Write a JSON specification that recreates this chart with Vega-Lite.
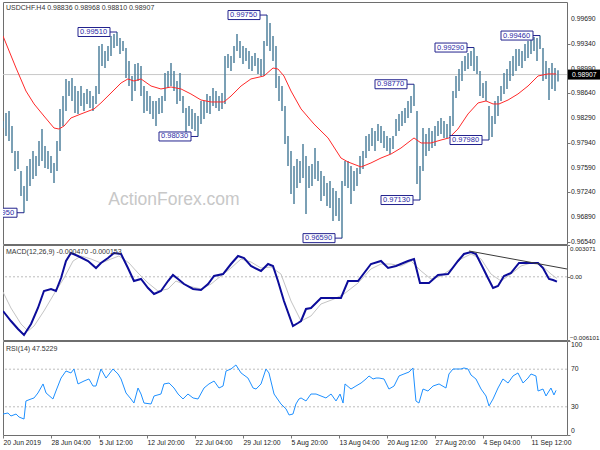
{
"$schema": "https://vega.github.io/schema/vega-lite/v6.json",
"padding": {"left": 2, "top": 1, "right": 0, "bottom": 0},
"background": "white",
"spacing": 1,
"bounds": "flush",
"config": {
 "font": "Liberation Sans",
 "view": {"stroke": "#6e6e6e", "strokeWidth": 1},
 "axis": {"labelFont": "Liberation Sans", "labelFontSize": 6.8, "labelColor": "#222222", "tickColor": "#777777", "tickSize": 3, "domain": false, "grid": false, "labelPadding": 1, "labelOverlap": false}
},
"datasets": {
 "bars": [
{"i":0,"h":0.98249,"l":0.98150},{"i":2,"h":0.98363,"l":0.98037},{"i":4,"h":0.98391,"l":0.97966},{"i":6,"h":0.98178,"l":0.97796},{"i":8,"h":0.97824,"l":0.97541},{"i":10,"h":0.97824,"l":0.97570},{"i":12,"h":0.97541,"l":0.97187},{"i":14,"h":0.97328,"l":0.96950},{"i":16,"h":0.97612,"l":0.97116},{"i":18,"h":0.97711,"l":0.97328},
{"i":20,"h":0.97824,"l":0.97428},{"i":22,"h":0.97753,"l":0.97470},{"i":24,"h":0.97966,"l":0.97612},{"i":26,"h":0.98136,"l":0.97683},{"i":28,"h":0.97895,"l":0.97584},{"i":30,"h":0.97824,"l":0.97570},{"i":32,"h":0.97753,"l":0.97513},{"i":34,"h":0.97655,"l":0.97371},{"i":36,"h":0.97966,"l":0.97541},{"i":38,"h":0.98420,"l":0.97824},
{"i":40,"h":0.98603,"l":0.98178},{"i":42,"h":0.98845,"l":0.98391},{"i":44,"h":0.98816,"l":0.98603},{"i":46,"h":0.98859,"l":0.98533},{"i":48,"h":0.98745,"l":0.98363},{"i":50,"h":0.98674,"l":0.98349},{"i":52,"h":0.98745,"l":0.98462},{"i":54,"h":0.98646,"l":0.98391},{"i":56,"h":0.98703,"l":0.98491},{"i":58,"h":0.98674,"l":0.98434},
{"i":60,"h":0.98603,"l":0.98391},{"i":62,"h":0.98745,"l":0.98491},{"i":64,"h":0.99312,"l":0.98632},{"i":66,"h":0.99340,"l":0.99028},{"i":68,"h":0.99241,"l":0.99000},{"i":70,"h":0.99312,"l":0.99099},{"i":72,"h":0.99453,"l":0.99170},{"i":74,"h":0.99482,"l":0.99283},{"i":76,"h":0.99510,"l":0.99312},{"i":78,"h":0.99425,"l":0.99199},
{"i":80,"h":0.99382,"l":0.99241},{"i":82,"h":0.99283,"l":0.98859},{"i":84,"h":0.99099,"l":0.98745},{"i":86,"h":0.98887,"l":0.98533},{"i":88,"h":0.99057,"l":0.98674},{"i":90,"h":0.99071,"l":0.98816},{"i":92,"h":0.99028,"l":0.98603},{"i":94,"h":0.98745,"l":0.98363},{"i":96,"h":0.98674,"l":0.98391},{"i":98,"h":0.98603,"l":0.98349},
{"i":100,"h":0.98533,"l":0.98278},{"i":102,"h":0.98533,"l":0.98178},{"i":104,"h":0.98575,"l":0.98349},{"i":106,"h":0.98603,"l":0.98363},{"i":108,"h":0.98930,"l":0.98533},{"i":110,"h":0.98958,"l":0.98717},{"i":112,"h":0.99071,"l":0.98745},{"i":114,"h":0.98958,"l":0.98674},{"i":116,"h":0.98816,"l":0.98491},{"i":118,"h":0.98930,"l":0.98533},
{"i":120,"h":0.98603,"l":0.98363},{"i":122,"h":0.98434,"l":0.98066},{"i":124,"h":0.98462,"l":0.98178},{"i":126,"h":0.98420,"l":0.98136},{"i":128,"h":0.98363,"l":0.98108},{"i":130,"h":0.98320,"l":0.98030},{"i":132,"h":0.98533,"l":0.98207},{"i":134,"h":0.98533,"l":0.98278},{"i":136,"h":0.98632,"l":0.98363},{"i":138,"h":0.98603,"l":0.98349},
{"i":140,"h":0.98717,"l":0.98462},{"i":142,"h":0.98674,"l":0.98434},{"i":144,"h":0.98603,"l":0.98391},{"i":146,"h":0.98646,"l":0.98420},{"i":148,"h":0.99170,"l":0.98491},{"i":150,"h":0.99199,"l":0.99000},{"i":152,"h":0.99170,"l":0.98958},{"i":154,"h":0.99312,"l":0.99071},{"i":156,"h":0.99482,"l":0.99241},{"i":158,"h":0.99382,"l":0.99142},
{"i":160,"h":0.99312,"l":0.99057},{"i":162,"h":0.99283,"l":0.99099},{"i":164,"h":0.99241,"l":0.98986},{"i":166,"h":0.99170,"l":0.98958},{"i":168,"h":0.99213,"l":0.99028},{"i":170,"h":0.99142,"l":0.98916},{"i":172,"h":0.99128,"l":0.98887},{"i":174,"h":0.99382,"l":0.98887},{"i":176,"h":0.99750,"l":0.99312},{"i":178,"h":0.99638,"l":0.99241},
{"i":180,"h":0.99453,"l":0.99099},{"i":182,"h":0.99312,"l":0.98717},{"i":184,"h":0.98887,"l":0.98533},{"i":186,"h":0.98745,"l":0.98391},{"i":188,"h":0.98462,"l":0.97924},{"i":190,"h":0.98037,"l":0.97612},{"i":192,"h":0.97824,"l":0.97216},{"i":194,"h":0.97612,"l":0.97074},{"i":196,"h":0.97711,"l":0.97300},{"i":198,"h":0.97683,"l":0.97371},
{"i":200,"h":0.97924,"l":0.97442},{"i":202,"h":0.97753,"l":0.96933},{"i":204,"h":0.97612,"l":0.97300},{"i":206,"h":0.97641,"l":0.97328},{"i":208,"h":0.97866,"l":0.97428},{"i":210,"h":0.97683,"l":0.97399},{"i":212,"h":0.97541,"l":0.97116},{"i":214,"h":0.97470,"l":0.97187},{"i":216,"h":0.97371,"l":0.97045},{"i":218,"h":0.97399,"l":0.97017},
{"i":220,"h":0.97300,"l":0.96833},{"i":222,"h":0.97258,"l":0.96904},{"i":224,"h":0.97159,"l":0.96833},{"i":226,"h":0.97399,"l":0.96590},{"i":228,"h":0.97683,"l":0.97328},{"i":230,"h":0.97683,"l":0.97300},{"i":232,"h":0.97612,"l":0.97074},{"i":234,"h":0.97541,"l":0.97258},{"i":236,"h":0.97583,"l":0.97328},{"i":238,"h":0.97753,"l":0.97499},
{"i":240,"h":0.97824,"l":0.97570},{"i":242,"h":0.98037,"l":0.97725},{"i":244,"h":0.98066,"l":0.97824},{"i":246,"h":0.98150,"l":0.97895},{"i":248,"h":0.98108,"l":0.97824},{"i":250,"h":0.98207,"l":0.97966},{"i":252,"h":0.98178,"l":0.97938},{"i":254,"h":0.98108,"l":0.97866},{"i":256,"h":0.98037,"l":0.97824},{"i":258,"h":0.98009,"l":0.97782},
{"i":260,"h":0.98037,"l":0.97852},{"i":262,"h":0.98278,"l":0.98037},{"i":264,"h":0.98349,"l":0.98108},{"i":266,"h":0.98391,"l":0.98178},{"i":268,"h":0.98434,"l":0.98221},{"i":270,"h":0.98533,"l":0.98292},{"i":272,"h":0.98603,"l":0.98363},{"i":274,"h":0.98770,"l":0.98462},{"i":276,"h":0.98391,"l":0.97357},{"i":278,"h":0.97612,"l":0.97130},
{"i":280,"h":0.98150,"l":0.97541},{"i":282,"h":0.98066,"l":0.97753},{"i":284,"h":0.98150,"l":0.97824},{"i":286,"h":0.98108,"l":0.97866},{"i":288,"h":0.98178,"l":0.97895},{"i":290,"h":0.98249,"l":0.98037},{"i":292,"h":0.98292,"l":0.98066},{"i":294,"h":0.98249,"l":0.98009},{"i":296,"h":0.98207,"l":0.98009},{"i":298,"h":0.98320,"l":0.98037},
{"i":300,"h":0.98674,"l":0.98178},{"i":302,"h":0.98887,"l":0.98575},{"i":304,"h":0.98986,"l":0.98674},{"i":306,"h":0.99099,"l":0.98816},{"i":308,"h":0.99170,"l":0.98958},{"i":310,"h":0.99213,"l":0.98986},{"i":312,"h":0.99241,"l":0.99028},{"i":314,"h":0.99290,"l":0.98958},{"i":316,"h":0.99170,"l":0.98916},{"i":318,"h":0.98958,"l":0.98603},
{"i":320,"h":0.98788,"l":0.98575},{"i":322,"h":0.98816,"l":0.98533},{"i":324,"h":0.98462,"l":0.97980},{"i":326,"h":0.98320,"l":0.98023},{"i":328,"h":0.98533,"l":0.98207},{"i":330,"h":0.98603,"l":0.98320},{"i":332,"h":0.98745,"l":0.98533},{"i":334,"h":0.98930,"l":0.98632},{"i":336,"h":0.98986,"l":0.98703},{"i":338,"h":0.99099,"l":0.98816},
{"i":340,"h":0.99170,"l":0.98887},{"i":342,"h":0.99269,"l":0.98958},{"i":344,"h":0.99269,"l":0.99028},{"i":346,"h":0.99241,"l":0.99000},{"i":348,"h":0.99340,"l":0.99099},{"i":350,"h":0.99382,"l":0.99142},{"i":352,"h":0.99425,"l":0.99199},{"i":354,"h":0.99439,"l":0.99241},{"i":356,"h":0.99425,"l":0.99099},{"i":358,"h":0.99460,"l":0.99269},
{"i":360,"h":0.99283,"l":0.98816},{"i":362,"h":0.99099,"l":0.98845},{"i":364,"h":0.99000,"l":0.98547},{"i":366,"h":0.99071,"l":0.98703},{"i":368,"h":0.99000,"l":0.98674},{"i":370,"h":0.98968,"l":0.98810}
 ],
 "ma": [
{"i":0,"p":0.99453},{"i":8.7,"p":0.99000},{"i":15.3,"p":0.98674},{"i":20.7,"p":0.98491},{"i":27.3,"p":0.98320},{"i":34,"p":0.98150},{"i":37.3,"p":0.98136},{"i":40.7,"p":0.98178},{"i":45.3,"p":0.98292},{"i":52,"p":0.98349},{"i":60.7,"p":0.98420},{"i":65.3,"p":0.98505},{"i":72,"p":0.98646},{"i":78.7,"p":0.98788},{"i":83.3,"p":0.98845},{"i":87.3,"p":0.98816},{"i":92,"p":0.98845},{"i":98.7,"p":0.98745},{"i":105.3,"p":0.98703},{"i":112,"p":0.98731},{"i":118.7,"p":0.98703},{"i":125.3,"p":0.98632},{"i":132,"p":0.98547},{"i":138.7,"p":0.98519},{"i":147.3,"p":0.98519},{"i":152,"p":0.98603},{"i":158.7,"p":0.98745},{"i":165.3,"p":0.98845},{"i":174,"p":0.98887},{"i":180,"p":0.99000},{"i":183.3,"p":0.98986},{"i":187.3,"p":0.98887},{"i":192,"p":0.98674},{"i":198.7,"p":0.98420},{"i":207.3,"p":0.98207},{"i":216.7,"p":0.98009},{"i":225.3,"p":0.97725},{"i":230,"p":0.97669},{"i":238.7,"p":0.97598},{"i":245.3,"p":0.97655},{"i":252,"p":0.97725},{"i":258.7,"p":0.97782},{"i":265.3,"p":0.97866},{"i":274,"p":0.98009},{"i":278.7,"p":0.97938},{"i":285.3,"p":0.97938},{"i":292,"p":0.97980},{"i":297.3,"p":0.98009},{"i":303.3,"p":0.98136},{"i":310,"p":0.98349},{"i":316.7,"p":0.98505},{"i":322,"p":0.98533},{"i":326.7,"p":0.98491},{"i":330.7,"p":0.98491},{"i":336.7,"p":0.98547},{"i":343.3,"p":0.98632},{"i":350,"p":0.98745},{"i":356.7,"p":0.98887},{"i":363.3,"p":0.98916},{"i":368.7,"p":0.98916}
 ],
 "ann": [
{"i":14,"p":0.96950,"t":"0.96950"},{"i":76,"p":0.99510,"t":"0.99510"},{"i":130,"p":0.98030,"t":"0.98030"},{"i":176,"p":0.99750,"t":"0.99750"},{"i":226,"p":0.96590,"t":"0.96590"},{"i":274,"p":0.98770,"t":"0.98770"},{"i":278,"p":0.97130,"t":"0.97130"},{"i":314,"p":0.99290,"t":"0.99290"},{"i":324,"p":0.97980,"t":"0.97980"},{"i":358,"p":0.99460,"t":"0.99460"}
 ],
 "pticks": [
{"i":376,"p":0.9969,"t":"0.99690"},{"i":376,"p":0.9934,"t":"0.99340"},{"i":376,"p":0.9899,"t":"0.98990"},{"i":376,"p":0.9864,"t":"0.98640"},{"i":376,"p":0.9829,"t":"0.98290"},{"i":376,"p":0.9794,"t":"0.97940"},{"i":376,"p":0.9759,"t":"0.97590"},{"i":376,"p":0.9724,"t":"0.97240"},{"i":376,"p":0.9689,"t":"0.96890"},{"i":376,"p":0.9654,"t":"0.96540"}
 ],
 "macd": [
{"i":0,"v":-0.003301},{"i":5.3,"v":-0.004267},{"i":10,"v":-0.005039},{"i":14,"v":-0.005618},{"i":18.7,"v":-0.004556},{"i":23.3,"v":-0.003012},{"i":27.3,"v":-0.001370},{"i":32,"v":-0.001177},{"i":35.3,"v":-0.001370},{"i":38.7,"v":-0.000116},{"i":42,"v":0.001526},{"i":45.3,"v":0.002299},{"i":50,"v":0.002009},{"i":56.7,"v":0.001526},{"i":62,"v":0.000850},{"i":65.3,"v":0.001333},{"i":70,"v":0.001816},{"i":74,"v":0.002299},{"i":78.7,"v":0.002202},{"i":83.3,"v":0.000850},{"i":87.3,"v":-0.000405},{"i":92,"v":-0.000212},{"i":96.7,"v":-0.001081},{"i":100.7,"v":-0.001660},{"i":105.3,"v":-0.001370},{"i":110,"v":-0.000405},{"i":113.3,"v":0.000175},{"i":116.7,"v":-0.000212},{"i":120.7,"v":-0.000695},{"i":126.7,"v":-0.001177},{"i":132,"v":-0.001274},{"i":136.7,"v":-0.000695},{"i":140.7,"v":0.000078},{"i":146.7,"v":0.000271},{"i":152,"v":0.001236},{"i":156.7,"v":0.002009},{"i":160.7,"v":0.001816},{"i":165.3,"v":0.001043},{"i":172,"v":0.000561},{"i":176.7,"v":0.001236},{"i":180,"v":0.001043},{"i":183.3,"v":-0.000405},{"i":187.3,"v":-0.002336},{"i":193.3,"v":-0.004750},{"i":196.7,"v":-0.004460},{"i":198.7,"v":-0.004267},{"i":202,"v":-0.003108},{"i":205.3,"v":-0.003012},{"i":212,"v":-0.002046},{"i":216.7,"v":-0.002046},{"i":220.7,"v":-0.002046},{"i":225.3,"v":-0.002046},{"i":230,"v":-0.000405},{"i":236.7,"v":-0.000405},{"i":245.3,"v":0.001236},{"i":252,"v":0.001526},{"i":256.7,"v":0.000850},{"i":262,"v":0.001043},{"i":270,"v":0.001526},{"i":274,"v":0.001719},{"i":278,"v":-0.000598},{"i":284,"v":-0.000598},{"i":290,"v":0.000175},{"i":296.7,"v":0.000271},{"i":303.3,"v":0.001526},{"i":307.3,"v":0.002202},{"i":312,"v":0.002395},{"i":315.3,"v":0.002202},{"i":320,"v":0.000850},{"i":323.3,"v":-0.000116},{"i":326.7,"v":-0.001081},{"i":330,"v":-0.000888},{"i":334,"v":0.000078},{"i":338.7,"v":0.000368},{"i":344,"v":0.001333},{"i":350,"v":0.001333},{"i":356.7,"v":0.001333},{"i":360,"v":0.000850},{"i":364,"v":-0.000212},{"i":366.7,"v":-0.000309},{"i":369.3,"v":-0.000470}
 ],
 "sig": [
{"i":0,"v":-0.001467},{"i":5.3,"v":-0.003012},{"i":12,"v":-0.004556},{"i":16.7,"v":-0.005232},{"i":20.7,"v":-0.004750},{"i":27.3,"v":-0.003301},{"i":34,"v":-0.001660},{"i":40.7,"v":-0.000116},{"i":46.7,"v":0.001526},{"i":52,"v":0.002009},{"i":58.7,"v":0.001719},{"i":65.3,"v":0.001333},{"i":72,"v":0.001719},{"i":77.3,"v":0.002009},{"i":84,"v":0.001333},{"i":90,"v":0.000368},{"i":96.7,"v":-0.000598},{"i":103.3,"v":-0.001370},{"i":110,"v":-0.001177},{"i":115.3,"v":-0.000405},{"i":123.3,"v":-0.000888},{"i":132,"v":-0.001177},{"i":138.7,"v":-0.000695},{"i":145.3,"v":0.000078},{"i":152,"v":0.000850},{"i":158.7,"v":0.001719},{"i":165.3,"v":0.001430},{"i":172,"v":0.000850},{"i":178.7,"v":0.000947},{"i":185.3,"v":0.000271},{"i":192,"v":-0.002336},{"i":198.7,"v":-0.004267},{"i":205.3,"v":-0.003784},{"i":212,"v":-0.002625},{"i":220.7,"v":-0.002143},{"i":227.3,"v":-0.001660},{"i":236.7,"v":-0.000598},{"i":245.3,"v":0.000754},{"i":252,"v":0.001236},{"i":258.7,"v":0.001236},{"i":265.3,"v":0.001043},{"i":272,"v":0.001526},{"i":278.7,"v":0.000561},{"i":285.3,"v":-0.000212},{"i":292,"v":0.000078},{"i":298.7,"v":0.000754},{"i":305.3,"v":0.001719},{"i":312,"v":0.002202},{"i":318.7,"v":0.001719},{"i":325.3,"v":0.000271},{"i":332,"v":-0.000405},{"i":338.7,"v":0.000271},{"i":345.3,"v":0.001043},{"i":352,"v":0.001333},{"i":358.7,"v":0.001140},{"i":365.3,"v":0.000271},{"i":369.3,"v":-0.000153}
 ],
 "rsi": [
{"i":0,"r":22.3},{"i":3.3,"r":23.4},{"i":5.3,"r":20.2},{"i":8.7,"r":22.3},{"i":10.7,"r":19.1},{"i":14,"r":17.0},{"i":15.3,"r":36.2},{"i":18.7,"r":38.3},{"i":20.7,"r":39.4},{"i":23.3,"r":44.7},{"i":26.7,"r":54.3},{"i":28.7,"r":44.7},{"i":33.3,"r":38.3},{"i":35.3,"r":46.8},{"i":38.7,"r":60.6},{"i":42,"r":68.1},{"i":45.3,"r":66.0},{"i":47.3,"r":70.2},{"i":50,"r":54.3},{"i":54,"r":57.4},{"i":57.3,"r":59.6},{"i":60,"r":52.1},{"i":62,"r":52.1},{"i":65.3,"r":70.2},{"i":68.7,"r":60.6},{"i":73.3,"r":70.2},{"i":76.7,"r":64.9},{"i":78.7,"r":59.6},{"i":82,"r":44.7},{"i":85.3,"r":38.3},{"i":87.3,"r":34.0},{"i":90,"r":50.0},{"i":92,"r":43.6},{"i":94,"r":34.0},{"i":98.7,"r":33.0},{"i":100.7,"r":41.5},{"i":105.3,"r":43.6},{"i":107.3,"r":54.3},{"i":110.7,"r":55.3},{"i":114,"r":50.0},{"i":116.7,"r":43.6},{"i":120,"r":38.3},{"i":123.3,"r":43.6},{"i":126.7,"r":39.4},{"i":130,"r":38.3},{"i":134,"r":50.0},{"i":137.3,"r":54.3},{"i":140.7,"r":57.4},{"i":144,"r":50.0},{"i":146.7,"r":52.1},{"i":148.7,"r":68.1},{"i":152,"r":70.2},{"i":155.3,"r":74.5},{"i":158.7,"r":66.0},{"i":163.3,"r":60.6},{"i":166.7,"r":50.0},{"i":168.7,"r":48.9},{"i":172,"r":54.3},{"i":175.3,"r":70.2},{"i":177.3,"r":66.0},{"i":180.7,"r":43.6},{"i":185.3,"r":33.0},{"i":188.7,"r":27.7},{"i":190.7,"r":21.3},{"i":193.3,"r":22.3},{"i":195.3,"r":33.0},{"i":197.3,"r":38.3},{"i":198.7,"r":39.4},{"i":202,"r":36.2},{"i":205.3,"r":43.6},{"i":208.7,"r":43.6},{"i":212,"r":41.5},{"i":215.3,"r":39.4},{"i":218.7,"r":43.6},{"i":222,"r":36.2},{"i":224.7,"r":43.6},{"i":226.7,"r":34.0},{"i":228,"r":54.3},{"i":232,"r":48.9},{"i":235.3,"r":52.1},{"i":238.7,"r":55.3},{"i":242,"r":59.6},{"i":244,"r":62.8},{"i":246.7,"r":59.6},{"i":248.7,"r":60.6},{"i":250.7,"r":60.6},{"i":254,"r":59.6},{"i":257.3,"r":48.9},{"i":260.7,"r":52.1},{"i":264,"r":62.8},{"i":267.3,"r":64.9},{"i":270.7,"r":67.0},{"i":273.3,"r":71.3},{"i":275.3,"r":36.2},{"i":277.3,"r":34.0},{"i":280,"r":48.9},{"i":283.3,"r":46.8},{"i":286.7,"r":52.1},{"i":290.7,"r":54.3},{"i":295.3,"r":50.0},{"i":297.3,"r":64.9},{"i":300,"r":70.2},{"i":303.3,"r":70.2},{"i":305.3,"r":70.2},{"i":307.3,"r":71.3},{"i":310,"r":70.2},{"i":312,"r":63.8},{"i":315.3,"r":59.6},{"i":318.7,"r":48.9},{"i":322,"r":41.5},{"i":324,"r":30.9},{"i":326.7,"r":38.3},{"i":330,"r":50.0},{"i":333.3,"r":59.6},{"i":336.7,"r":55.3},{"i":340,"r":62.8},{"i":343.3,"r":66.0},{"i":346.7,"r":55.3},{"i":350,"r":60.6},{"i":352,"r":64.9},{"i":355.3,"r":62.8},{"i":356.7,"r":46.8},{"i":360,"r":48.9},{"i":362,"r":41.5},{"i":365.3,"r":50.0},{"i":367.3,"r":42.6},{"i":368.7,"r":47.5}
 ]
},
"vconcat": [
 {
  "width": 564, "height": 242,
  "layer": [
   {"data": {"values": [{"p": 0.98907}]}, "mark": {"type": "rule", "color": "#c8c8c8", "strokeWidth": 1},
    "encoding": {"y": {"field": "p", "type": "quantitative", "title": null, "scale": {"domain": [0.96507, 0.99935], "zero": false, "nice": false},
      "axis": {"orient": "right", "values": [0.9969, 0.9934, 0.9899, 0.9864, 0.9829, 0.9794, 0.9759, 0.9724, 0.9689, 0.9654], "labels": false, "zindex": 0}}}},
   {"data": {"name": "pticks"}, "mark": {"type": "text", "align": "left", "baseline": "middle", "dx": 4, "fontSize": 6.8, "color": "#222222"},
    "encoding": {"x": {"field": "i", "type": "quantitative", "title": null, "scale": {"domain": [0, 376], "nice": false, "zero": false}, "axis": null}, "y": {"field": "p", "type": "quantitative"}, "text": {"field": "t"}}},
   {"data": {"values": [{"i": 114, "p": 0.9713, "t": "ActionForex.com"}]}, "mark": {"type": "text", "fontSize": 17.5, "color": "#c8c8c8", "align": "center", "baseline": "middle"},
    "encoding": {"x": {"field": "i", "type": "quantitative"}, "y": {"field": "p", "type": "quantitative"}, "text": {"field": "t"}}},
   {"data": {"values": [{"i": 2, "p": 0.9985, "t": "USDCHF.H4  0.98836 0.98968 0.98810 0.98907"}]}, "mark": {"type": "text", "fontSize": 7, "color": "#333333", "align": "left", "baseline": "middle"},
    "encoding": {"x": {"field": "i", "type": "quantitative"}, "y": {"field": "p", "type": "quantitative"}, "text": {"field": "t"}}},
   {"data": {"name": "bars"}, "mark": {"type": "rule", "color": "#4f819c", "strokeWidth": 1.5, "clip": true},
    "encoding": {"x": {"field": "i", "type": "quantitative"}, "y": {"field": "h", "type": "quantitative"}, "y2": {"field": "l"}}},
   {"data": {"name": "ma"}, "mark": {"type": "line", "color": "#ff2a2a", "strokeWidth": 1, "clip": true},
    "encoding": {"x": {"field": "i", "type": "quantitative"}, "y": {"field": "p", "type": "quantitative"}}},
   {"data": {"name": "ann"}, "mark": {"type": "rule", "color": "#23238e", "strokeWidth": 1, "xOffset": -7, "clip": true},
    "encoding": {"x": {"field": "i", "type": "quantitative"}, "x2": {"field": "i"}, "y": {"field": "p", "type": "quantitative"}}},
   {"data": {"name": "ann"}, "mark": {"type": "rect", "fill": "white", "stroke": "#23238e", "strokeWidth": 1, "xOffset": -39, "x2Offset": -7, "yOffset": -4.5, "y2Offset": 4.5, "clip": true},
    "encoding": {"x": {"field": "i", "type": "quantitative"}, "x2": {"field": "i"}, "y": {"field": "p", "type": "quantitative"}, "y2": {"field": "p"}}},
   {"data": {"name": "ann"}, "mark": {"type": "text", "align": "left", "baseline": "middle", "dx": -37, "fontSize": 7.5, "color": "#2a2aa6", "clip": true},
    "encoding": {"x": {"field": "i", "type": "quantitative"}, "y": {"field": "p", "type": "quantitative"}, "text": {"field": "t"}}},
   {"data": {"values": [{"i": 376, "p": 0.98907, "t": "0.98907"}]}, "mark": {"type": "rect", "fill": "black", "xOffset": 1, "x2Offset": 33, "yOffset": -5, "y2Offset": 5},
    "encoding": {"x": {"field": "i", "type": "quantitative"}, "x2": {"field": "i"}, "y": {"field": "p", "type": "quantitative"}, "y2": {"field": "p"}}},
   {"data": {"values": [{"i": 376, "p": 0.98907, "t": "0.98907"}]}, "mark": {"type": "text", "fill": "white", "align": "left", "baseline": "middle", "dx": 5, "fontSize": 6.8},
    "encoding": {"x": {"field": "i", "type": "quantitative"}, "y": {"field": "p", "type": "quantitative"}, "text": {"field": "t"}}}
  ]
 },
 {
  "width": 564, "height": 95,
  "layer": [
   {"data": {"values": [{"v": 0}]}, "mark": {"type": "rule", "color": "#bdbdbd", "strokeDash": [2, 2], "strokeWidth": 1},
    "encoding": {"y": {"field": "v", "type": "quantitative", "title": null, "scale": {"domain": [-0.006101, 0.003071], "zero": false, "nice": false},
      "axis": {"orient": "right", "values": [0.003071, 0, -0.006101], "labelFlush": true, "labelFontSize": 6.2, "labelPadding": 0, "tickSize": 2.5, "labelExpr": "datum.value == 0 ? '0.00' : format(datum.value, '.6f')"}}}},
   {"data": {"name": "sig"}, "mark": {"type": "line", "color": "#c4c4c4", "strokeWidth": 1, "clip": true},
    "encoding": {"x": {"field": "i", "type": "quantitative", "title": null, "scale": {"domain": [0, 376], "nice": false, "zero": false}, "axis": null}, "y": {"field": "v", "type": "quantitative"}}},
   {"data": {"name": "macd"}, "mark": {"type": "line", "color": "#0c0c9a", "strokeWidth": 2, "clip": true},
    "encoding": {"x": {"field": "i", "type": "quantitative"}, "y": {"field": "v", "type": "quantitative"}}},
   {"data": {"values": [{"i1": 310.7, "v1": 0.002492, "i2": 376, "v2": 0.000754}]}, "mark": {"type": "rule", "color": "#3a3a3a", "strokeWidth": 1, "clip": true},
    "encoding": {"x": {"field": "i1", "type": "quantitative"}, "x2": {"field": "i2"}, "y": {"field": "v1", "type": "quantitative"}, "y2": {"field": "v2"}}},
   {"data": {"values": [{"i": 2, "v": 0.00244, "t": "MACD(12,26,9) -0.000470 -0.000153"}]}, "mark": {"type": "text", "fontSize": 7, "color": "#333333", "align": "left", "baseline": "middle"},
    "encoding": {"x": {"field": "i", "type": "quantitative"}, "y": {"field": "v", "type": "quantitative"}, "text": {"field": "t"}}}
  ]
 },
 {
  "width": 564, "height": 94,
  "layer": [
   {"data": {"values": [{"r": 70}, {"r": 30}]}, "mark": {"type": "rule", "color": "#bdbdbd", "strokeDash": [2, 2], "strokeWidth": 1},
    "encoding": {"y": {"field": "r", "type": "quantitative", "title": null, "scale": {"domain": [0, 100], "nice": false, "zero": false},
      "axis": {"orient": "right", "values": [100, 70, 30, 0], "labels": false}}}},
   {"data": {"values": [{"i": 376, "r": 100, "t": "100"}]}, "mark": {"type": "text", "align": "left", "baseline": "top", "dx": 4, "dy": 1, "fontSize": 6.8, "color": "#222222"},
    "encoding": {"x": {"field": "i", "type": "quantitative", "title": null, "scale": {"domain": [0, 376], "nice": false, "zero": false},
      "axis": {"orient": "bottom", "values": [0, 32, 64, 96, 128, 160, 192, 224, 256, 288, 320, 352], "labelAlign": "left", "labelFlush": false, "labelPadding": 1, "labelOverlap": false,
       "labelExpr": "['20 Jun 2019','28 Jun 04:00','5 Jul 12:00','12 Jul 20:00','22 Jul 04:00','29 Jul 12:00','5 Aug 20:00','13 Aug 04:00','20 Aug 12:00','27 Aug 20:00','4 Sep 04:00','11 Sep 12:00'][round(datum.value / 32)]"}},
     "y": {"field": "r", "type": "quantitative"}, "text": {"field": "t"}}},
   {"data": {"values": [{"i": 376, "r": 70, "t": "70"}, {"i": 376, "r": 30, "t": "30"}]}, "mark": {"type": "text", "align": "left", "baseline": "middle", "dx": 4, "fontSize": 6.8, "color": "#222222"},
    "encoding": {"x": {"field": "i", "type": "quantitative"}, "y": {"field": "r", "type": "quantitative"}, "text": {"field": "t"}}},
   {"data": {"values": [{"i": 376, "r": 0, "t": "0"}]}, "mark": {"type": "text", "align": "left", "baseline": "bottom", "dx": 4, "dy": -1, "fontSize": 6.8, "color": "#222222"},
    "encoding": {"x": {"field": "i", "type": "quantitative"}, "y": {"field": "r", "type": "quantitative"}, "text": {"field": "t"}}},
   {"data": {"name": "rsi"}, "mark": {"type": "line", "color": "#1e90ff", "strokeWidth": 1, "clip": true},
    "encoding": {"x": {"field": "i", "type": "quantitative"}, "y": {"field": "r", "type": "quantitative"}}},
   {"data": {"values": [{"i": 2, "r": 91.5, "t": "RSI(14) 47.5229"}]}, "mark": {"type": "text", "fontSize": 7, "color": "#333333", "align": "left", "baseline": "middle"},
    "encoding": {"x": {"field": "i", "type": "quantitative"}, "y": {"field": "r", "type": "quantitative"}, "text": {"field": "t"}}}
  ]
 }
]
}
